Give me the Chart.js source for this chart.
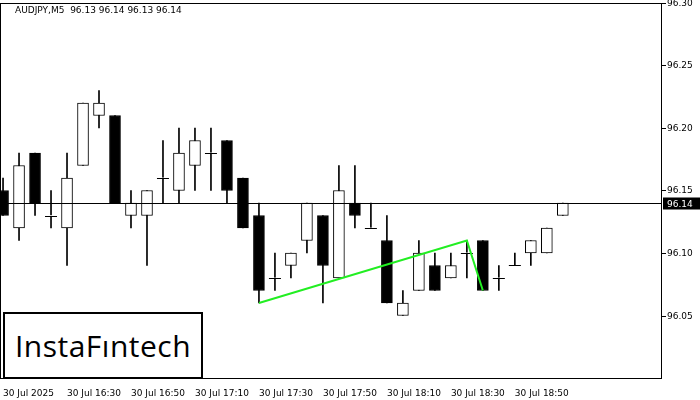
<!DOCTYPE html>
<html><head><meta charset="utf-8">
<script src="https://cdn.jsdelivr.net/npm/chart.js@4"></script>
<style>body{margin:0;background:#fff}#w{position:relative;width:700px;height:400px}
#logo{position:absolute;left:3px;top:312px;width:196px;height:63px;border:2px solid #000;background:#fff;font:30px "Open Sans",sans-serif;display:flex;align-items:center;justify-content:center;letter-spacing:0.5px}
</style></head><body><div id="w"><canvas id="c" width="700" height="400"></canvas><div id="logo">InstaFıntech</div></div>
<script>
const opens =[96.15,96.12,96.18,96.13,96.12,96.17,96.21,96.21,96.13,96.13,96.16,96.15,96.17,96.18,96.19,96.16,96.13,96.08,96.09,96.11,96.13,96.08,96.14,96.12,96.11,96.05,96.07,96.09,96.08,96.10,96.11,96.08,96.09,96.10,96.10,96.13];
const closes=[96.13,96.17,96.14,96.13,96.16,96.22,96.22,96.14,96.14,96.15,96.16,96.18,96.19,96.18,96.15,96.12,96.07,96.08,96.10,96.14,96.09,96.15,96.13,96.12,96.06,96.06,96.10,96.07,96.09,96.10,96.07,96.08,96.09,96.11,96.12,96.14];
const highs =[96.16,96.18,96.18,96.15,96.18,96.22,96.23,96.21,96.15,96.15,96.19,96.20,96.20,96.20,96.19,96.16,96.14,96.10,96.10,96.14,96.13,96.17,96.17,96.14,96.13,96.07,96.11,96.10,96.10,96.11,96.11,96.09,96.10,96.11,96.12,96.14];
const lows  =[96.13,96.11,96.13,96.12,96.09,96.17,96.20,96.14,96.12,96.09,96.14,96.14,96.15,96.15,96.14,96.12,96.06,96.07,96.08,96.10,96.06,96.08,96.12,96.12,96.06,96.05,96.07,96.07,96.08,96.08,96.07,96.07,96.09,96.09,96.10,96.13];
const xLabels=["30 Jul 2025","30 Jul 16:30","30 Jul 16:50","30 Jul 17:10","30 Jul 17:30","30 Jul 17:50","30 Jul 18:10","30 Jul 18:30","30 Jul 18:50"];
const patternX=[16,29,30];
const patternY=[96.06,96.11,96.07];
const levelPrice=96.14;
const yTicks=[96.05,96.10,96.15,96.20,96.25,96.30];

const bodies=opens.map((o,i)=>({x:i,y:o===closes[i]?[o-0.00005,o+0.00005]:[o,closes[i]]}));
const wicks=highs.map((h,i)=>({x:i,y:[lows[i],h]}));
const bodyColors=opens.map((o,i)=>closes[i]<o?'#000':'#fff');
const bodyBorders=opens.map((o,i)=>o===closes[i]?0:1);

const overlay={id:'ov',afterDatasetsDraw(ch){
  const {ctx,chartArea:a,scales:{x,y}}=ch;
  ctx.save();
  ctx.strokeStyle='#000';ctx.lineWidth=1;
  // doji crosses
  opens.forEach((o,i)=>{if(o!==closes[i])return;const X=x.getPixelForValue(i),Y=Math.round(y.getPixelForValue(o))+0.5;
    ctx.beginPath();ctx.moveTo(X-6,Y);ctx.lineTo(X+6,Y);ctx.stroke();});
  // level line
  const ly=Math.round(y.getPixelForValue(levelPrice))+0.5;
  ctx.beginPath();ctx.moveTo(a.left,ly);ctx.lineTo(a.right,ly);ctx.stroke();
  // pattern
  ctx.strokeStyle='#22ee22';ctx.lineWidth=2;ctx.beginPath();
  patternX.forEach((px,i)=>{const X=x.getPixelForValue(px),Y=y.getPixelForValue(patternY[i]);i?ctx.lineTo(X,Y):ctx.moveTo(X,Y);});
  ctx.stroke();
  // frame
  ctx.strokeStyle='#000';ctx.lineWidth=1;ctx.strokeRect(a.left+0.5,a.top+0.5,a.right-a.left-1,a.bottom-a.top);
  // y tick labels
  ctx.fillStyle='#000';ctx.font='9px "DejaVu Sans",sans-serif';ctx.textBaseline='middle';
  yTicks.forEach(v=>{const Y=Math.round(y.getPixelForValue(v));ctx.fillRect(a.right,Y,4,1);ctx.fillText(v.toFixed(2),a.right+5,Y+1);});
  // title
  ctx.textBaseline='top';
  ctx.fillText('AUDJPY,M5  96.13 96.14 96.13 96.14',a.left+15,a.top+3);
  // price tag
  ctx.fillRect(a.right+1,ly-6,37,12);ctx.fillStyle='#fff';ctx.textBaseline='middle';ctx.fillText('96.14',a.right+5,ly+1);
  ctx.restore();
}};

new Chart(document.getElementById('c'),{
  type:'bar',
  data:{datasets:[
    {data:wicks,backgroundColor:'#000',barThickness:1,grouped:false,order:2},
    {data:bodies,backgroundColor:bodyColors,borderColor:'#000',borderWidth:bodyBorders,borderSkipped:false,barThickness:11,grouped:false,order:1}
  ]},
  options:{responsive:false,animation:false,
    layout:{padding:{left:0,top:3,right:0,bottom:0}},
    plugins:{legend:{display:false},tooltip:{enabled:false}},
    scales:{
      x:{type:'linear',min:-0.19,max:41.2,offset:false,
        grid:{display:false,drawTicks:true},border:{display:false},
        afterBuildTicks(s){s.ticks=xLabels.map((_,i)=>({value:i*4}));},
        afterFit(s){s.height=22;},
        ticks:{autoSkip:false,maxRotation:0,font:{size:9,family:'DejaVu Sans'},color:'#000',padding:2,
          callback:(v)=>xLabels[v/4],align:'start'}},
      y:{position:'right',min:96.0,max:96.30,
        grid:{display:false},border:{display:false},
        afterFit(s){s.width=38;},
        ticks:{display:false}}
    }
  },
  plugins:[overlay]
});
</script></body></html>
